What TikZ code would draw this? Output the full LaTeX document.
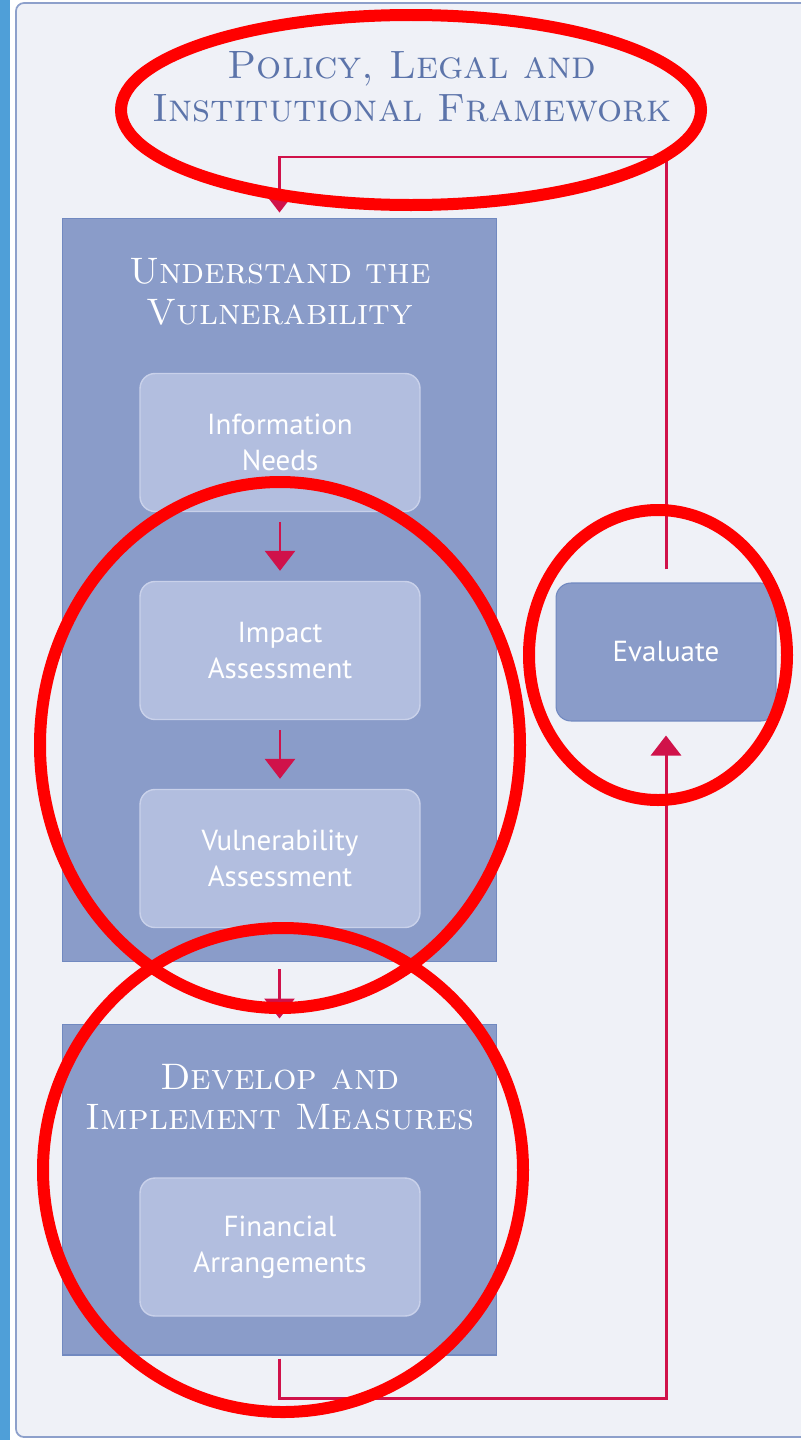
\documentclass[tikz,border=0pt]{standalone}
\usepackage{fontspec}
\newfontfamily\boxfont{PT Sans}
\usetikzlibrary{arrows.meta}
\definecolor{stripe}{HTML}{4F9FD8}
\definecolor{panelbg}{HTML}{EFF1F7}
\definecolor{panelline}{HTML}{8DA0CB}
\definecolor{titleblue}{HTML}{5C74AA}
\definecolor{stagefill}{HTML}{8A9CC9}
\definecolor{stageline}{HTML}{7189C0}
\definecolor{stepfill}{HTML}{B2BEDF}
\definecolor{stepline}{HTML}{C9D1EA}
\definecolor{flowred}{HTML}{D0124A}
\definecolor{markred}{HTML}{FF0000}
\tikzset{
  stage/.style={draw=stageline, line width=0.6pt, fill=stagefill, minimum width=8.7cm},
  stepbox/.style={draw=stepline, line width=0.8pt, fill=stepfill, rounded corners=0.3cm,
    minimum width=5.6cm, minimum height=2.76cm, align=center, text=white,
    font=\boxfont\fontsize{16.5}{20.5}\selectfont},
  stagetitle/.style={align=center, text=white, font=\scshape\fontsize{21}{23}\selectfont},
  flow/.style={draw=flowred, line width=1.7pt},
  flowarrow/.style={flow, -{Triangle[width=0.6cm,length=0.4cm]}},
  markring/.style={draw=markred, line width=0.24cm}
}
\begin{document}
\begin{tikzpicture}[x=0.02cm, y=-0.02cm]
		%%%%% START %%%%%
		\useasboundingbox (0,0) rectangle (801,1440);
		
		\fill[stripe] (0,0) rectangle (10,1440);
		\draw[panelline, fill=panelbg, line width=1pt, rounded corners=0.16cm] (16,3) rectangle (840,1437);
		
		\node[align=center, text=titleblue, font=\scshape\fontsize{22.5}{24.4}\selectfont] (policy) at (412,87) {Policy, Legal and\\Institutional Framework};
		
		% understand the vulnerability
		\node[stage, minimum height=14.88cm] (und) at (279.5,590) {};
		\node[stagetitle] (undtitle) at (280,292) {Understand the\\Vulnerability};
		\node[stepbox] (info) at (280,442.5) {Information\\Needs};
		\node[stepbox] (impact) at (280,650.5) {Impact\\Assessment};
		\node[stepbox] (vuln) at (280,858.5) {Vulnerability\\Assessment};
		
		% develop and implement measures
		\node[stage, minimum height=6.62cm] (dev) at (279.5,1189.5) {};
		\node[stagetitle] (devtitle) at (280,1097) {Develop and\\Implement Measures};
		\node[stepbox] (fin) at (280,1247) {Financial\\Arrangements};
		
		\node[stage, minimum width=4.4cm, minimum height=2.76cm, rounded corners=0.3cm, text=white,
		  font=\boxfont\fontsize{16.5}{20.5}\selectfont] (eval) at (666,652) {Evaluate};
		
		\coordinate (topturn) at (281,157);
		\coordinate (botturn) at (281,1398);
		
		\draw[flowarrow, shorten <=0.26cm, shorten >=0.1cm] (eval.north) -- (eval.north |- topturn) -| (und.north);
		\draw[flowarrow, shorten <=0.2cm, shorten >=0.2cm] (info) -- (impact);
		\draw[flowarrow, shorten <=0.2cm, shorten >=0.2cm] (impact) -- (vuln);
		\draw[flowarrow, shorten <=0.14cm, shorten >=0.1cm] (und.south) -- (dev.north);
		\draw[flowarrow, shorten <=0.06cm, shorten >=0.28cm] (dev.south) |- (eval.south |- botturn) -- (eval.south);
		
		% red marks
		\draw[markring] (411,110) ellipse (290 and 95);
		\draw[markring] (280,745) ellipse (240 and 263);
		\draw[markring] (658,655) ellipse (129 and 145);
		\draw[markring] (283,1170) ellipse (240 and 242);
		
		%%%%% END %%%%%
	\end{tikzpicture}
\end{document}
